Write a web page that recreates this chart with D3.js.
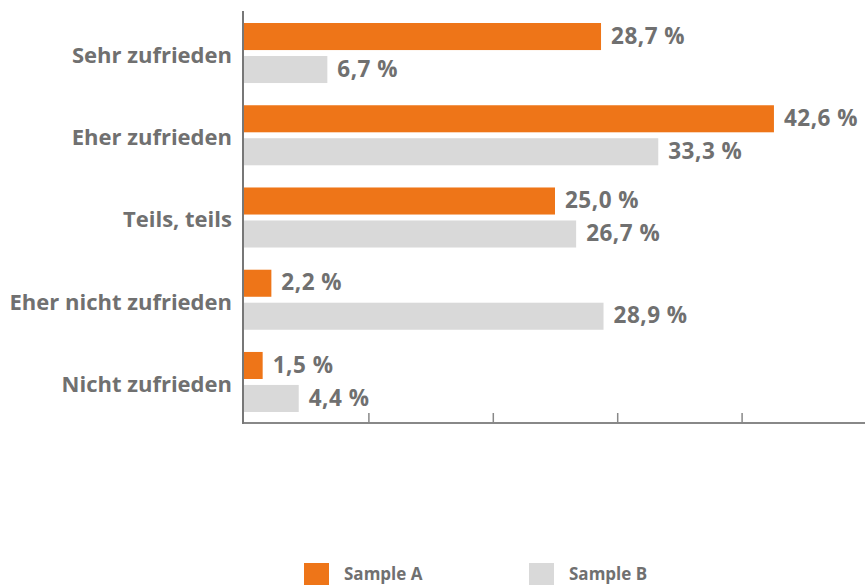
<!DOCTYPE html>
<html>
<head>
<meta charset="utf-8">
<script src="https://cdn.jsdelivr.net/npm/d3@7"></script>
<style>
  body { margin: 0; background: #fff; }
  text { font-family: "Open Sans", sans-serif; font-weight: 700; fill: #707070; }
</style>
</head>
<body>
<div id="chart"></div>
<script>
var categories = ['Sehr zufrieden', 'Eher zufrieden', 'Teils, teils', 'Eher nicht zufrieden', 'Nicht zufrieden'];
var seriesNames = ['Sample A', 'Sample B'];
var sampleA = [28.7, 42.6, 25.0, 2.2, 1.5];
var sampleB = [6.7, 33.3, 26.7, 28.9, 4.4];
var xTicks = [0, 10, 20, 30, 40, 50];

var width = 865;
var height = 585;
var colors = {'Sample A': '#EE7518', 'Sample B': '#D9D9D9'};

var locale = d3.formatLocale({decimal: ',', thousands: '.', grouping: [3], currency: ['', ' €']});
var fmt = locale.format('.1f');

var svg = d3.select('#chart').append('svg').attr('width', width).attr('height', height);

var x = d3.scaleLinear().domain([0, 50]).range([244, 866]);
var y = d3.scaleBand().domain(categories).range([11.5, 423.5]).paddingInner(0.27).paddingOuter(0.14);
var ySub = d3.scaleBand().domain(seriesNames).range([0, y.bandwidth()]).paddingInner(0.18);

var rows = categories.map(function(c, i){
	return {category: c, values: [
		{name: 'Sample A', value: sampleA[i]},
		{name: 'Sample B', value: sampleB[i]}
	]};
});

var groups = svg.selectAll('g.group').data(rows).enter().append('g')
	.attr('class', 'group')
	.attr('transform', function(d){ return 'translate(0,' + y(d.category) + ')'; });

groups.selectAll('rect').data(function(d){ return d.values; }).enter().append('rect')
	.attr('x', x(0))
	.attr('y', function(d){ return ySub(d.name); })
	.attr('width', function(d){ return x(d.value) - x(0); })
	.attr('height', ySub.bandwidth())
	.style('fill', function(d){ return colors[d.name]; });

groups.selectAll('text.value').data(function(d){ return d.values; }).enter().append('text')
	.attr('class', 'value')
	.attr('x', function(d){ return x(d.value) + 10; })
	.attr('y', function(d){ return ySub(d.name) + ySub.bandwidth() / 2; })
	.attr('dy', '0.32em')
	.style('font-size', '22.5px')
	.style('letter-spacing', '0.5px')
	.text(function(d){ return fmt(d.value) + ' %'; });

// Category labels
svg.selectAll('text.cat').data(categories).enter().append('text')
	.attr('class', 'cat')
	.attr('x', 232)
	.attr('y', function(d){ return y(d) + y.bandwidth() / 2; })
	.attr('dy', '0.45em')
	.attr('text-anchor', 'end')
	.style('font-size', '22px')
	.text(function(d){ return d; });

// Axes
var xAxis = d3.axisTop(x).tickValues(xTicks.slice(1, 5)).tickSize(10).tickFormat('');
var gx = svg.append('g').attr('transform', 'translate(0,423)').call(xAxis);
gx.select('.domain').remove();
gx.selectAll('.tick line').attr('stroke', '#888').attr('stroke-width', 1.5);
svg.append('line').attr('x1', 243).attr('x2', width).attr('y1', 423).attr('y2', 423)
	.attr('stroke', '#888').attr('stroke-width', 2);
svg.append('line').attr('x1', 243).attr('x2', 243).attr('y1', 11).attr('y2', 424)
	.attr('stroke', '#777').attr('stroke-width', 2);

// Legend
var legendX = [304, 529];
var legend = svg.selectAll('g.legend').data(seriesNames).enter().append('g')
	.attr('class', 'legend')
	.attr('transform', function(d, i){ return 'translate(' + legendX[i] + ',563)'; });
legend.append('rect').attr('width', 25).attr('height', 25).style('fill', function(d){ return colors[d]; });
legend.append('text').attr('x', 40).attr('y', 17).style('font-size', '17px').text(function(d){ return d; });
</script>
</body>
</html>
